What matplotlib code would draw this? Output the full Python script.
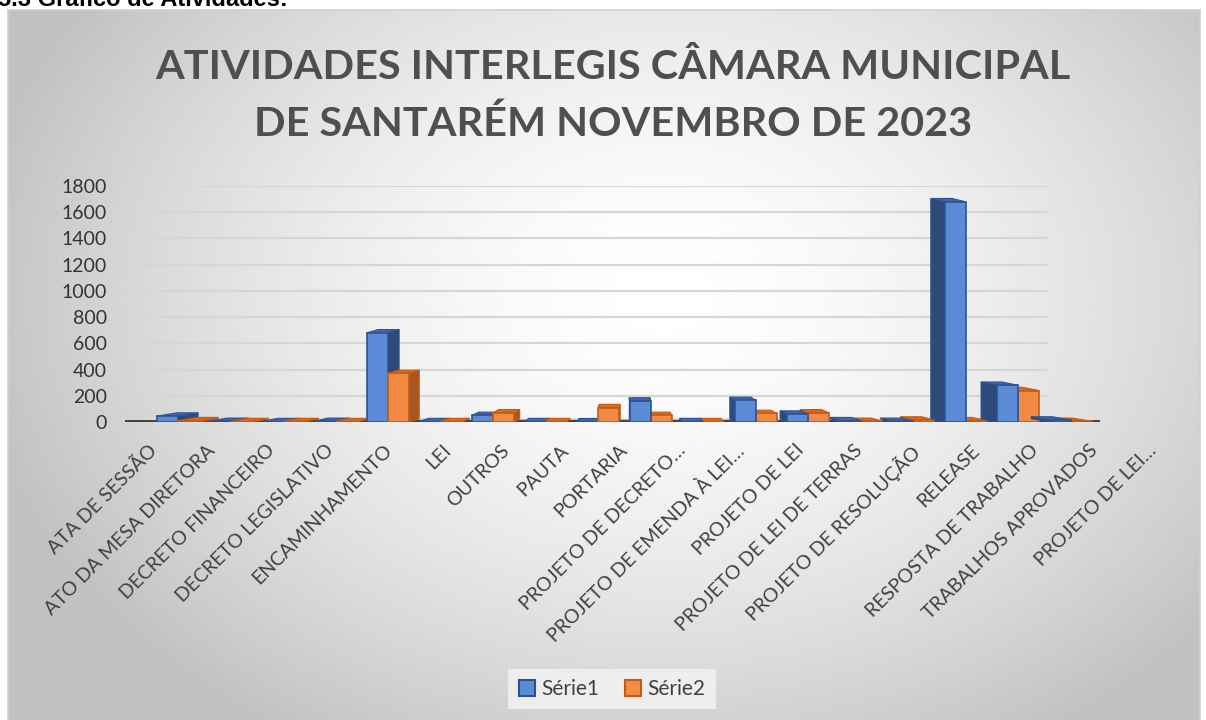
import numpy as np
import matplotlib
matplotlib.use("Agg")
import matplotlib.pyplot as plt
from matplotlib.patches import Patch

# ---------------- data ----------------
categorias = [
    "ATA DE SESSÃO", "ATO DA MESA DIRETORA", "DECRETO FINANCEIRO",
    "DECRETO LEGISLATIVO", "ENCAMINHAMENTO", "LEI", "OUTROS", "PAUTA",
    "PORTARIA", "PROJETO DE DECRETO…", "PROJETO DE EMENDA À LEI…",
    "PROJETO DE LEI", "PROJETO DE LEI DE TERRAS", "PROJETO DE RESOLUÇÃO",
    "RELEASE", "RESPOSTA DE TRABALHO", "TRABALHOS APROVADOS",
    "PROJETO DE LEI…",
]
serie1 = [45, 5, 3, 5, 680, 3, 50, 3, 2, 160, 3, 165, 60, 10, 5, 1680, 280, 15]
serie2 = [10, 3, 3, 3, 370, 3, 70, 3, 110, 50, 3, 65, 70, 5, 15, 10, 240, 5]
nomes_series = ["Série1", "Série2"]
yticks = [0, 200, 400, 600, 800, 1000, 1200, 1400, 1600, 1800]
titulo = "ATIVIDADES INTERLEGIS CÂMARA MUNICIPAL\nDE SANTARÉM NOVEMBRO DE 2023"
cabecalho = "5.3 Gráfico de Atividades:"

# ---------------- figure ----------------
W, H = 1206, 720
fig = plt.figure(figsize=(W / 100, H / 100), dpi=100)
fig.patch.set_facecolor("white")


def px(x0, y0, x1, y1):
    return [x0 / W, 1 - y1 / H, (x1 - x0) / W, (y1 - y0) / H]


# background of chart area (radial gradient)
bg = fig.add_axes(px(8, 10, 1200, 722))
yy, xx = np.mgrid[0:1:300j, 0:1:500j]
cx, cy = 0.55, 0.40
r = np.sqrt(((xx - cx) / 0.6) ** 2 + ((yy - cy) / 0.75) ** 2)
val = np.clip(1 - 0.25 * r ** 1.6, 0.76, 1.0)
bg.imshow(val, cmap="gray", vmin=0, vmax=1, aspect="auto",
          extent=[0, 1, 1, 0], interpolation="bicubic")
bg.set_xticks([])
bg.set_yticks([])
for s in bg.spines.values():
    s.set_color("#d0d0d0")
    s.set_linewidth(1.2)

# header (cut off at top, as in the source document)
fig.text(-0.002, 1 - 6 / H, cabecalho, ha="left", va="baseline",
         fontsize=17, fontweight="bold", family="Liberation Sans", color="black")

# title
fig.text(613 / W, 1 - 96 / H, titulo, ha="center", va="center",
         fontsize=29.8, fontweight="bold", family="Lato", color="#4f4f4f",
         linespacing=1.64)

# ---------------- main axes ----------------
ax = fig.add_axes(px(125, 186, 1100, 422))
ax.patch.set_alpha(0)
n = len(categorias)
x = np.arange(n)
ax.set_xlim(-1.01, 17.56)
ax.set_ylim(0, 1800)
for s in ax.spines.values():
    s.set_visible(False)
ax.set_xticks([])
ax.set_yticks(yticks)
ax.set_yticklabels([str(v) for v in yticks], fontsize=14, family="Lato",
                   color="#333333")
ax.tick_params(axis="y", length=0, pad=13)

for v in yticks[1:]:
    ax.axhline(v, xmin=0, xmax=0.946, color="#d6d6d6", lw=1.6, zorder=1)

# floor
dy = 25
xmin, xmax = ax.get_xlim()
ax.fill([xmin, xmax, xmax - 0.9, xmin + 1.1], [0, 0, dy, dy],
        color="#bdbdbd", zorder=1.5, lw=0)
ax.axhline(0, color="#3f3f3f", lw=3.5, zorder=1.6)

# pseudo-3D bars
w = 0.4
vx, k = 8.7, 0.043
estilos = [
    dict(face="#5b8ad6", side="#2e4a78", top="#3f66ad", edge="#2f528f"),
    dict(face="#f08a45", side="#a8561f", top="#d46a22", edge="#c55a11"),
]
offs = [-w / 2, w / 2]
z = 3.0
for i in range(n):
    order = [0, 1] if i < vx else [1, 0]
    for si in order:
        h = [serie1, serie2][si][i]
        st = estilos[si]
        xc = x[i] + offs[si]
        left, right = xc - w / 2, xc + w / 2
        ddx = k * (vx - xc)
        if ddx > 0:
            ax.fill([right, right, right + ddx, right + ddx], [0, h, h + dy, dy],
                    facecolor=st["side"], edgecolor=st["edge"], lw=0.8, zorder=z)
        else:
            ax.fill([left, left, left + ddx, left + ddx], [0, h, h + dy, dy],
                    facecolor=st["side"], edgecolor=st["edge"], lw=0.8, zorder=z)
        ax.fill([left, right, right + ddx, left + ddx], [h, h, h + dy, h + dy],
                facecolor=st["top"], edgecolor=st["edge"], lw=0.8, zorder=z + 0.01)
        ax.bar(xc, h, width=w, color=st["face"], edgecolor=st["edge"],
               lw=1.2, zorder=z + 0.02)
        z += 0.1

# ---------------- category labels ----------------
lab = fig.add_axes(px(0, 186, 1206, 422))
lab.patch.set_alpha(0)
lab.set_xlim(-160 / 58.8, (1206 - 160) / 58.8)
lab.set_ylim(0, 1)
for s in lab.spines.values():
    s.set_visible(False)
lab.set_yticks([])
lab.set_xticks(x)
lab.set_xticklabels(categorias, rotation=45, ha="right", va="top",
                    fontsize=14, family="Lato", color="#404040")
lab.tick_params(axis="x", length=0, pad=14)

# ---------------- legend ----------------
handles = [Patch(facecolor=estilos[j]["face"], edgecolor=estilos[j]["edge"],
                 lw=1.5, label=nomes_series[j]) for j in range(2)]
leg = fig.legend(handles=handles, loc="center",
                 bbox_to_anchor=(612 / W, 1 - 689 / H), ncol=2, frameon=True,
                 fancybox=False, prop={"family": "Lato", "size": 15},
                 handlelength=0.8, handleheight=0.8, handletextpad=0.3,
                 columnspacing=1.2, borderpad=0.5)
leg.get_frame().set_facecolor("#f4f4f4")
leg.get_frame().set_edgecolor("none")
for t in leg.get_texts():
    t.set_color("#404040")

fig.savefig("out.png", dpi=100)
